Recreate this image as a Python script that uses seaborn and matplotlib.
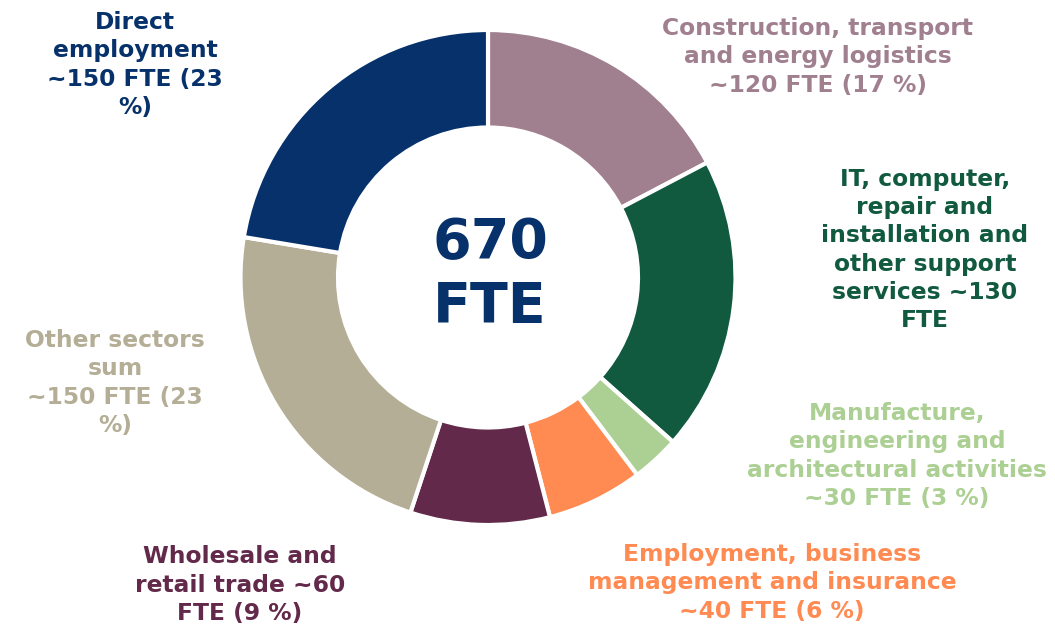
import matplotlib
matplotlib.use("Agg")
import matplotlib.pyplot as plt
import seaborn as sns

sns.set_theme(style="white")
plt.rcParams['font.family'] = ['DejaVu Sans']

# Data (clockwise from 12 o'clock)
categories = [
    "Construction, transport\nand energy logistics\n~120 FTE (17 %)",
    "IT, computer,\nrepair and\ninstallation and\nother support\nservices ~130\nFTE",
    "Manufacture,\nengineering and\narchitectural activities\n~30 FTE (3 %)",
    "Employment, business\nmanagement and insurance\n~40 FTE (6 %)",
    "Wholesale and\nretail trade ~60\nFTE (9 %)",
    "Other sectors\nsum\n~150 FTE (23\n%)",
    "Direct\nemployment\n~150 FTE (23\n%)",
]
values = [116, 129, 21, 42, 61, 151, 150]
colors = ["#A07F8F", "#115A40", "#ACD093", "#FF8A52", "#62294A", "#B4AE96", "#06316B"]
total_label = "670\nFTE"

W, H = 1055, 627
fig = plt.figure(figsize=(W / 100, H / 100), dpi=100)
ax = fig.add_axes([0, 0, 1, 1])

cx, cy, R = 488, H - 277.5, 247.5
ax.pie(values, colors=colors, startangle=90, counterclock=False,
       center=(cx, cy), radius=R, frame=True,
       wedgeprops=dict(width=97.5, edgecolor="white", linewidth=3))
ax.set_xlim(0, W)
ax.set_ylim(0, H)
ax.set_aspect("equal")
ax.axis("off")

# label positions (pixel, from top)
label_pos = [(818, 57), (925, 250), (897, 456), (772, 583), (240, 585), (115, 383), (135, 65)]
for text, col, (x, y) in zip(categories, colors, label_pos):
    ax.text(x, H - y, text, color=col, fontsize=16.8, fontweight="bold",
            ha="center", va="center", linespacing=1.28)

ax.text(490, H - 275, total_label, color="#06316B", fontsize=40, fontweight="bold",
        ha="center", va="center", linespacing=1.25)

fig.savefig("out.png", dpi=100)
